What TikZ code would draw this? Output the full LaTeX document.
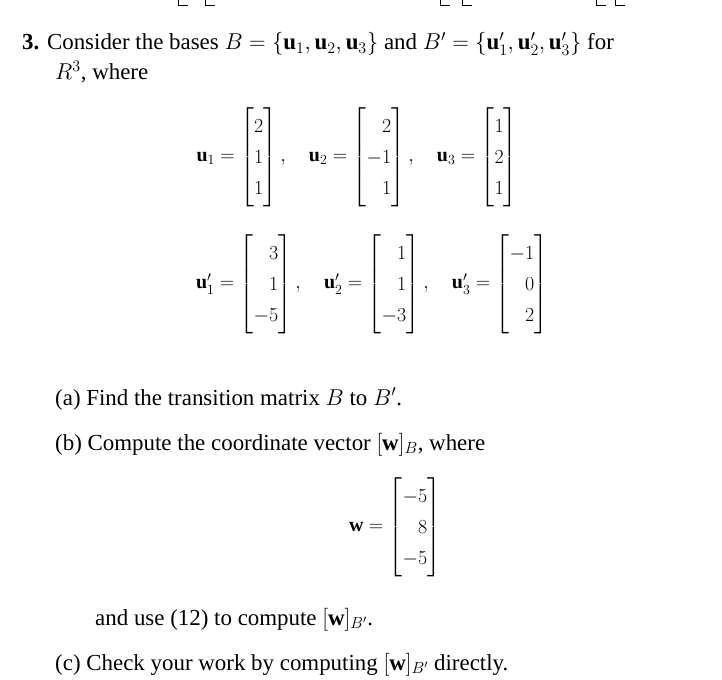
\documentclass[tikz,border=0pt]{standalone}
\usepackage{fix-cm}
\usepackage{amsmath}
\usepackage{fontspec}
\setmainfont{Liberation Serif}
\begin{document}
\begin{tikzpicture}[x=1bp,y=-1bp,
  txt/.style={anchor=base west,inner sep=0pt,font=\fontsize{23}{27}\selectfont},
  mat/.style={inner sep=0pt,font=\fontsize{20}{24}\selectfont},
  brk/.style={line width=1pt}]
\useasboundingbox (0,0) rectangle (722,680);
% partial brackets at top
\foreach \a/\b in {178/188,205/215,440/450,462/472,596/606,615/625}{\draw[brk] (\a,0) -- (\a,6) -- (\b,6);}
\node[txt] (l1) at (22,50) {\textbf{3.} Consider the bases $B=\{\mathbf{u}_1,\mathbf{u}_2,\mathbf{u}_3\}$ and $B'=\{\mathbf{u}'_1,\mathbf{u}'_2,\mathbf{u}'_3\}$ for};
\node[txt] (l2) at (55,80) {$R^3$, where};
\renewcommand{\arraystretch}{1.3}
\node[mat] (r1) at (357,157) {$\mathbf{u}_1=\begin{bmatrix}2\\1\\1\end{bmatrix},\quad
\mathbf{u}_2=\begin{bmatrix}\phantom{-}2\\-1\\\phantom{-}1\end{bmatrix},\quad
\mathbf{u}_3=\begin{bmatrix}1\\2\\1\end{bmatrix}$};
\node[mat] (r2) at (372,284) {$\mathbf{u}'_1=\begin{bmatrix}\phantom{-}3\\\phantom{-}1\\-5\end{bmatrix},\quad
\mathbf{u}'_2=\begin{bmatrix}\phantom{-}1\\\phantom{-}1\\-3\end{bmatrix},\quad
\mathbf{u}'_3=\begin{bmatrix}-1\\\phantom{-}0\\\phantom{-}2\end{bmatrix}$};
\node[txt] (a) at (55,405) {(a) Find the transition matrix $B$ to $B'$.};
\node[txt] (b) at (55,450) {(b) Compute the coordinate vector $[\mathbf{w}]_B$, where};
\node[mat] (w) at (395,527) {$\mathbf{w}=\begin{bmatrix}-5\\\phantom{-}8\\-5\end{bmatrix}$};
\node[txt] (b2) at (95,625) {and use (12) to compute $[\mathbf{w}]_{B'}$.};
\node[txt] (c) at (55,670) {(c) Check your work by computing $[\mathbf{w}]_{B'}$ directly.};
\end{tikzpicture}
\end{document}
